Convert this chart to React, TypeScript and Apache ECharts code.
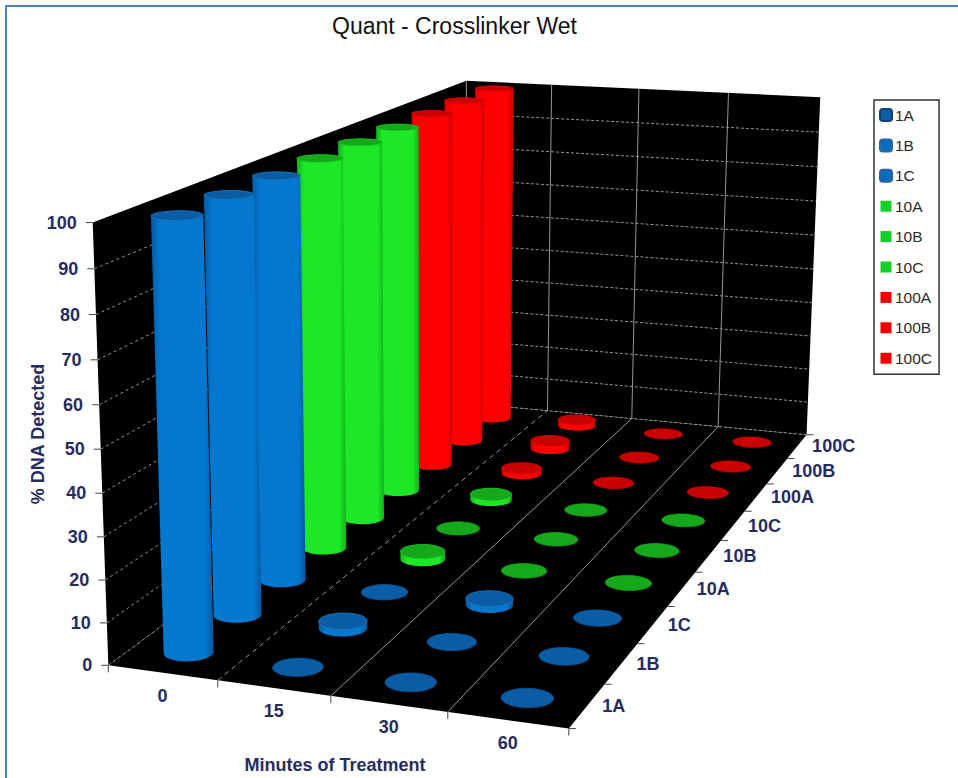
import React, { useEffect, useRef } from "react";
import * as echarts from "echarts";

const timeLabels = ["0", "15", "30", "60"];
const seriesNames = ["1A", "1B", "1C", "10A", "10B", "10C", "100A", "100B", "100C"];
const valueTicks = [0, 10, 20, 30, 40, 50, 60, 70, 80, 90, 100];

const values1A = [100, 0, 0, 0];
const values1B = [100, 1.7, 0, 0];
const values1C = [100, 0, 1.6, 0];
const values10A = [100, 2, 0, 0];
const values10B = [100, 0, 0, 0];
const values10C = [100, 1.6, 0, 0];
const values100A = [100, 1.5, 0, 0];
const values100B = [100, 2.4, 0, 0];
const values100C = [100, 1.8, 0, 0];
const allValues = [values1A, values1B, values1C, values10A, values10B, values10C, values100A, values100B, values100C];

// Colour ramps per treatment group: top cap, cap rim, cylinder edge, cylinder centre.
const BLUE = { top: "#0a5ca4", rim: "#2378bf", edge: "#0559a0", mid: "#0477cf" };
const GREEN = { top: "#14a81a", rim: "#18c020", edge: "#12b01c", mid: "#1de826" };
const RED = { top: "#c80000", rim: "#dc0000", edge: "#cc0000", mid: "#ff0000" };
const ramps = [BLUE, BLUE, BLUE, GREEN, GREEN, GREEN, RED, RED, RED];

const swatches = [
  { icon: "roundRect", itemStyle: { color: "#0a5fa8", borderColor: "#103f6e", borderWidth: 2 } },
  { icon: "roundRect", itemStyle: { color: "#0a6cc0", borderColor: "#2a64a4", borderWidth: 2 } },
  { icon: "roundRect", itemStyle: { color: "#0a6cc0", borderColor: "#2a64a4", borderWidth: 2 } },
  { icon: "rect", itemStyle: { color: "#14d028", borderColor: "#ffffff", borderWidth: 1 } },
  { icon: "rect", itemStyle: { color: "#14d028", borderColor: "#ffffff", borderWidth: 1 } },
  { icon: "rect", itemStyle: { color: "#14d028", borderColor: "#ffffff", borderWidth: 1 } },
  { icon: "rect", itemStyle: { color: "#f00000", borderColor: "#ffffff", borderWidth: 1 } },
  { icon: "rect", itemStyle: { color: "#f00000", borderColor: "#ffffff", borderWidth: 1 } },
  { icon: "rect", itemStyle: { color: "#f00000", borderColor: "#ffffff", borderWidth: 1 } },
];

const FONT = '"Liberation Sans", Arial, sans-serif';
const LABEL_COLOR = "#262c62";
const CYLINDER_RADIUS = 0.21;

// Known view anchors: [time, series, value, screen x, screen y].
const viewAnchors = [
  [0, 0, 0, 109.5, 666.7], [1, 0, 0, 217, 680], [2, 0, 0, 331, 696], [3, 0, 0, 448, 712], [4, 0, 0, 568, 728],
  [1, 9, 0, 547, 410], [2, 9, 0, 632, 418], [3, 9, 0, 718, 427], [4, 9, 0, 807, 435],
  [0, 0, 100, 92.7, 221.7], [0, 9, 100, 466, 80], [1, 9, 100, 552, 86], [2, 9, 100, 639, 89], [3, 9, 100, 728, 93], [4, 9, 100, 820.7, 97],
];

// Least-squares fit of a projective camera (3x4 matrix with last element 1).
function fitCamera(anchors: number[][]): number[] {
  const n = 11;
  const ata = Array.from({ length: n }, () => new Array(n + 1).fill(0));
  const addRow = (row: number[], rhs: number) => {
    for (let i = 0; i < n; i++) {
      for (let j = 0; j < n; j++) ata[i][j] += row[i] * row[j];
      ata[i][n] += row[i] * rhs;
    }
  };
  anchors.forEach(([u, v, w, px, py]) => {
    const Z = w / 100;
    const x = px / 1000;
    const y = py / 1000;
    addRow([u, v, Z, 1, 0, 0, 0, 0, -x * u, -x * v, -x * Z], x);
    addRow([0, 0, 0, 0, u, v, Z, 1, -y * u, -y * v, -y * Z], y);
  });
  for (let c = 0; c < n; c++) {
    let pivot = c;
    for (let r = c + 1; r < n; r++) if (Math.abs(ata[r][c]) > Math.abs(ata[pivot][c])) pivot = r;
    [ata[c], ata[pivot]] = [ata[pivot], ata[c]];
    for (let r = 0; r < n; r++) {
      if (r === c) continue;
      const f = ata[r][c] / ata[c][c];
      for (let k = c; k <= n; k++) ata[r][k] -= f * ata[c][k];
    }
  }
  return ata.map((row, i) => row[n] / row[i]);
}

const cam = fitCamera(viewAnchors);

function project(u: number, v: number, w: number): number[] {
  const Z = w / 100;
  const d = cam[8] * u + cam[9] * v + cam[10] * Z + 1;
  return [
    (1000 * (cam[0] * u + cam[1] * v + cam[2] * Z + cam[3])) / d,
    (1000 * (cam[4] * u + cam[5] * v + cam[6] * Z + cam[7])) / d,
  ];
}

function convexHull(points: number[][]): number[][] {
  const pts = points.slice().sort((a, b) => a[0] - b[0] || a[1] - b[1]);
  const cross = (o: number[], a: number[], b: number[]) =>
    (a[0] - o[0]) * (b[1] - o[1]) - (a[1] - o[1]) * (b[0] - o[0]);
  const chain = (list: number[][]) => {
    const out: number[][] = [];
    list.forEach((p) => {
      while (out.length >= 2 && cross(out[out.length - 2], out[out.length - 1], p) <= 0) out.pop();
      out.push(p);
    });
    out.pop();
    return out;
  };
  return chain(pts).concat(chain(pts.slice().reverse()));
}

function ring(u: number, v: number, w: number): number[][] {
  const pts: number[][] = [];
  for (let i = 0; i < 60; i++) {
    const t = (i / 60) * Math.PI * 2;
    pts.push(project(u + CYLINDER_RADIUS * Math.cos(t), v + CYLINDER_RADIUS * Math.sin(t), w));
  }
  return pts;
}

function cylinderSeries(seriesIndex: number) {
  const ramp = ramps[seriesIndex];
  const body = new echarts.graphic.LinearGradient(0, 0, 1, 0, [
    { offset: 0, color: ramp.edge },
    { offset: 0.14, color: ramp.mid },
    { offset: 0.86, color: ramp.mid },
    { offset: 1, color: ramp.edge },
  ]);
  return {
    type: "custom",
    name: seriesNames[seriesIndex],
    coordinateSystem: "none",
    z: 20 - seriesIndex,
    silent: true,
    itemStyle: { color: ramp.mid },
    data: allValues[seriesIndex].map((value, timeIndex) => [timeIndex, value]),
    renderItem: (_params: unknown, api: any) => {
      const u = api.value(0) + 0.5;
      const v = seriesIndex + 0.5;
      const value = api.value(1);
      const top = ring(u, v, value);
      const base = ring(u, v, 0);
      const raised = value > 0;
      const children: any[] = [];
      if (raised) {
        children.push({ type: "polygon", shape: { points: convexHull(top.concat(base)) }, style: { fill: body } });
      }
      children.push({
        type: "polygon",
        shape: { points: top },
        style: { fill: ramp.top, stroke: raised ? ramp.rim : ramp.top, lineWidth: 0.7 },
      });
      return { type: "group", children };
    },
  };
}

function polygon(points: number[][], fill: string, z: number) {
  return { type: "polygon", z, silent: true, shape: { points }, style: { fill } };
}

function segment(a: number[], b: number[], stroke: string, z: number, lineDash?: number[]) {
  return {
    type: "line",
    z,
    silent: true,
    shape: { x1: a[0], y1: a[1], x2: b[0], y2: b[1] },
    style: { stroke, lineWidth: 1, lineDash },
  };
}

function label(text: string, x: number, y: number, align: string, rotation = 0) {
  return {
    type: "text",
    z: 30,
    silent: true,
    x,
    y,
    rotation,
    style: { text, fill: LABEL_COLOR, font: `bold 18px ${FONT}`, align, verticalAlign: "middle" },
  };
}

function sceneElements() {
  const els: any[] = [];
  const U = timeLabels.length;
  const V = seriesNames.length;
  els.push({
    type: "rect",
    z: 0,
    silent: true,
    shape: { x: 6, y: 6, width: 1000, height: 1000 },
    style: { fill: "#ffffff", stroke: "#4f81bd", lineWidth: 2 },
  });
  els.push(polygon([project(0, 0, 0), project(0, V, 0), project(0, V, 100), project(0, 0, 100)], "#000000", 1));
  els.push(polygon([project(0, V, 0), project(U, V, 0), project(U, V, 100), project(0, V, 100)], "#000000", 1));
  els.push(polygon([project(0, 0, 0), project(U, 0, 0), project(U, V, 0), project(0, V, 0)], "#000000", 1));

  const GRID = "#969696";
  valueTicks.forEach((tick) => {
    if (tick < 100) {
      els.push(segment(project(0, 0, tick), project(0, V, tick), GRID, 2, [3, 3]));
      els.push(segment(project(0, V, tick), project(U, V, tick), GRID, 2, [3, 2]));
    }
    const p = project(0, 0, tick);
    els.push(segment([p[0] - 7, p[1]], p, "#444444", 2));
    els.push(label(String(tick), p[0] - 16, p[1], "right"));
  });
  for (let u = 0; u <= U; u++) {
    if (u > 0 && u < U) {
      els.push(segment(project(u, 0, 0), project(u, V, 0), GRID, 2, u === 1 ? [5, 4] : undefined));
    }
    if (u < U) els.push(segment(project(u, V, 0), project(u, V, 100), GRID, 2));
    const p = project(u, 0, 0);
    els.push(segment(p, [p[0], p[1] + 7], "#444444", 2));
  }
  timeLabels.forEach((t, i) => {
    const p = project(i + 0.5, 0, 0);
    els.push(label(t, p[0], p[1] + 23, "center"));
  });
  for (let v = 0; v <= V; v++) {
    const p = project(U, v, 0);
    els.push(segment(p, [p[0] + 7, p[1]], "#444444", 2));
  }
  seriesNames.forEach((s, i) => {
    const p = project(U, i + 0.5, 0);
    els.push(label(s, p[0] + 15, p[1], "left"));
  });
  els.push(label("Minutes of Treatment", 335, 765, "center"));
  els.push(label("% DNA Detected", 38, 434, "center", Math.PI / 2));
  return els;
}

export default function App() {
  const ref = useRef<HTMLDivElement>(null);
  useEffect(() => {
    const chart = echarts.init(ref.current!, null, { renderer: "svg" });
    chart.setOption({
      animation: false,
      backgroundColor: "#ffffff",
      title: {
        text: "Quant - Crosslinker Wet",
        left: 332,
        top: 14,
        padding: 0,
        textStyle: { fontFamily: FONT, fontSize: 23, fontWeight: "normal", color: "#111111" },
      },
      legend: {
        orient: "vertical",
        left: 874,
        top: 100,
        padding: [7, 7, 8, 5],
        itemWidth: 12,
        itemHeight: 12,
        itemGap: 14.4,
        selectedMode: false,
        borderColor: "#333333",
        borderWidth: 1.5,
        backgroundColor: "#ffffff",
        textStyle: { fontFamily: FONT, fontSize: 15.5, color: "#2c2c2c", padding: [0, 0, 0, -2] },
        data: seriesNames.map((name, i) => ({ name, ...swatches[i] })),
      },
      graphic: { elements: sceneElements() },
      series: seriesNames.map((_, i) => cylinderSeries(i)),
    });
    return () => chart.dispose();
  }, []);
  return <div ref={ref} style={{ position: "fixed", left: 0, top: 0, width: 958, height: 778 }} />;
}
